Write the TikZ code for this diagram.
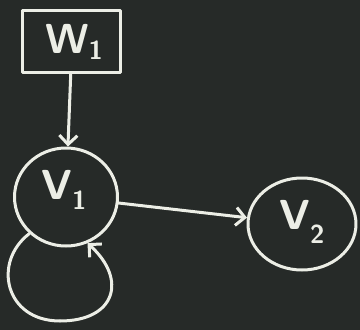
\documentclass[tikz,border=0pt]{standalone}
\usetikzlibrary{arrows.meta,shapes.geometric}
\definecolor{board}{RGB}{38,42,40}
\definecolor{chalk}{RGB}{236,238,230}
\begin{document}
\begin{tikzpicture}[x=1pt,y=-1pt,
  chalkline/.style={draw=chalk,line width=3pt,line cap=round,line join=round},
  chalkarrow/.style={chalkline,-{Straight Barb[length=9pt,width=18pt,line width=3pt]}},
  boxnode/.style={chalkline,rectangle,minimum width=98pt,minimum height=62pt,inner sep=0pt},
  ellnode/.style={chalkline,ellipse,inner sep=0pt},
  lab/.style={text=chalk,font=\sffamily\bfseries\fontsize{42}{42}\selectfont},
  sub/.style={}]
\fill[board] (0,0) rectangle (360,330);
\useasboundingbox (0,0) rectangle (360,330);
\node[boxnode] (w1) at (72,41) {};
\node[lab] at (74,42) {W\raisebox{-6pt}{\fontsize{26}{26}\selectfont 1}};
\node[ellnode,minimum width=103pt,minimum height=98pt] (v1) at (66,197) {};
\node[lab] at (64,190) {V\raisebox{-10pt}{\fontsize{26}{26}\selectfont 1}};
\node[ellnode,minimum width=108pt,minimum height=92pt] (v2) at (302,224) {};
\node[lab] at (302,222) {V\raisebox{-14pt}{\fontsize{26}{26}\selectfont 2}};
\draw[chalkarrow] (w1) -- (v1);
\draw[chalkarrow] (v1) -- (v2);
\coordinate (lb) at (60,321);
\draw[chalkline] (v1.225) .. controls (-8,262) and (5,321) .. (lb);
\draw[chalkarrow] (lb) .. controls (115,321) and (128,280) .. (v1.295);
\end{tikzpicture}
\end{document}
